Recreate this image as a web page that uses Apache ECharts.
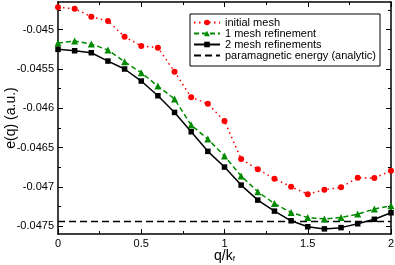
<!DOCTYPE html>
<html>
<head>
<meta charset="utf-8">
<script src="https://cdn.jsdelivr.net/npm/echarts@6/dist/echarts.min.js"></script>
<style>html,body{margin:0;padding:0;background:#fff}#c{width:395px;height:265px}</style>
</head>
<body>
<div id="c"></div>
<script>
const qValues = [0,0.1,0.2,0.3,0.4,0.5,0.6,0.7,0.8,0.9,1.0,1.1,1.2,1.3,1.4,1.5,1.6,1.7,1.8,1.9,2.0];
const initialMesh = [-0.044718,-0.044735,-0.044837,-0.044892,-0.045092,-0.045210,-0.045231,-0.045537,-0.045862,-0.045944,-0.046164,-0.046647,-0.046778,-0.046898,-0.047000,-0.047093,-0.047038,-0.047007,-0.046885,-0.046889,-0.046796];
const oneRefinement = [-0.045172,-0.045146,-0.045184,-0.045261,-0.045410,-0.045549,-0.045719,-0.045884,-0.046215,-0.046393,-0.046609,-0.046863,-0.047063,-0.047213,-0.047328,-0.047391,-0.047410,-0.047389,-0.047347,-0.047283,-0.047241];
const twoRefinements = [-0.045252,-0.045270,-0.045295,-0.045401,-0.045502,-0.045655,-0.045842,-0.046054,-0.046300,-0.046549,-0.046749,-0.046978,-0.047169,-0.047309,-0.047432,-0.047508,-0.047535,-0.047519,-0.047470,-0.047413,-0.047330];
const paraX = [0, 2];
const paraEnergy = -0.04744;
const yMajorTicks = [-0.0475,-0.047,-0.0465,-0.046,-0.0455,-0.045];
const yMinorTicks = [-0.04725,-0.04675,-0.04625,-0.04575,-0.04525,-0.04475];
const seriesNames = ['initial mesh','1 mesh refinement','2 mesh refinements','paramagnetic energy (analytic)'];
const yTitle = 'e(q) (a.u.)';

const FONT = 'Liberation Sans';
const chart = echarts.init(document.getElementById('c'), null, {renderer:'canvas'});
const pair = (xs, ys) => xs.map((x,i)=>[x, ys[i]]);
const yMin = -0.0476, yMax = -0.04465;
const axLine = {show:true, lineStyle:{color:'#000', width:1.5}};

function yAxisDef(pos, ticks, len, labels, line){
  return {
    type:'value', position:pos, min:yMin, max:yMax,
    axisLine: line ? axLine : {show:false},
    axisTick:{show:true, inside:true, length:len, customValues:ticks, lineStyle:{color:'#000', width:1}},
    axisLabel: labels ? {show:true, customValues:ticks, fontFamily:FONT, fontSize:11, color:'#000', margin:4,
      formatter:v=>String(Math.round(v*1e5)/1e5)} : {show:false},
    splitLine:{show:false}
  };
}

const option = {
  backgroundColor:'#fff',
  animation:false,
  grid:{left:58, right:4, top:2, bottom:31, containLabel:false, outerBoundsMode:'none'},
  graphic:[{
    type:'text', x:11, y:118, rotation:Math.PI/2,
    style:{text:yTitle, fontFamily:FONT, fontSize:14, fill:'#000', align:'center', verticalAlign:'middle'}
  }],
  legend:{
    orient:'vertical', left:190, top:14,
    padding:[3,4,5,3], itemGap:0, itemWidth:26, itemHeight:7,
    backgroundColor:'#fff', borderColor:'#000', borderWidth:1,
    textStyle:{fontFamily:FONT, fontSize:11, color:'#000', lineHeight:11},
    data:[seriesNames[0], seriesNames[1], seriesNames[2],
      {name:seriesNames[3], itemStyle:{opacity:0}}]
  },
  xAxis:[
    {type:'value', position:'bottom', min:0, max:2, interval:0.5,
     name:'{a|q/k}{b|f}', nameLocation:'middle', nameGap:15, nameMoveOverlap:false,
     nameTextStyle:{fontFamily:FONT, color:'#000', rich:{
       a:{fontFamily:FONT, fontSize:14, color:'#000', lineHeight:14},
       b:{fontFamily:FONT, fontSize:8, color:'#000', lineHeight:6, verticalAlign:'bottom'}}},
     axisLine:axLine,
     axisTick:{show:true, inside:true, length:5, lineStyle:{color:'#000', width:1}},
     minorTick:{show:true, splitNumber:2, length:3, lineStyle:{color:'#000', width:1}},
     axisLabel:{fontFamily:FONT, fontSize:11, color:'#000', margin:4},
     splitLine:{show:false}},
    {type:'value', position:'top', min:0, max:2, interval:0.5,
     axisLine:axLine,
     axisTick:{show:true, inside:true, length:5, lineStyle:{color:'#000', width:1}},
     minorTick:{show:true, splitNumber:2, length:3, lineStyle:{color:'#000', width:1}},
     axisLabel:{show:false}, splitLine:{show:false}}
  ],
  yAxis:[
    yAxisDef('left', yMajorTicks, 5, true, true),
    yAxisDef('left', yMinorTicks, 3, false, false),
    yAxisDef('right', yMajorTicks, 5, false, true),
    yAxisDef('right', yMinorTicks, 3, false, false)
  ],
  series:[
    {name:seriesNames[0], type:'line', data:pair(qValues, initialMesh),
     symbol:'circle', symbolSize:6, itemStyle:{color:'#ff0000'},
     lineStyle:{color:'#ff0000', width:1.5, type:[1.5,3.5]}, z:2},
    {name:seriesNames[1], type:'line', data:pair(qValues, oneRefinement),
     symbol:'triangle', symbolSize:7, itemStyle:{color:'#008a00'},
     lineStyle:{color:'#008a00', width:1.5, type:[5,3]}, z:3},
    {name:seriesNames[2], type:'line', data:pair(qValues, twoRefinements),
     symbol:'rect', symbolSize:5.5, itemStyle:{color:'#000'},
     lineStyle:{color:'#000', width:1.5}, z:4},
    {name:seriesNames[3], type:'line', data:paraX.map(x=>[x, paraEnergy]),
     symbol:'none', itemStyle:{color:'#000'},
     lineStyle:{color:'#000', width:1.5, type:[7,4]}, z:1}
  ]
};
chart.setOption(option);
</script>
</body>
</html>
